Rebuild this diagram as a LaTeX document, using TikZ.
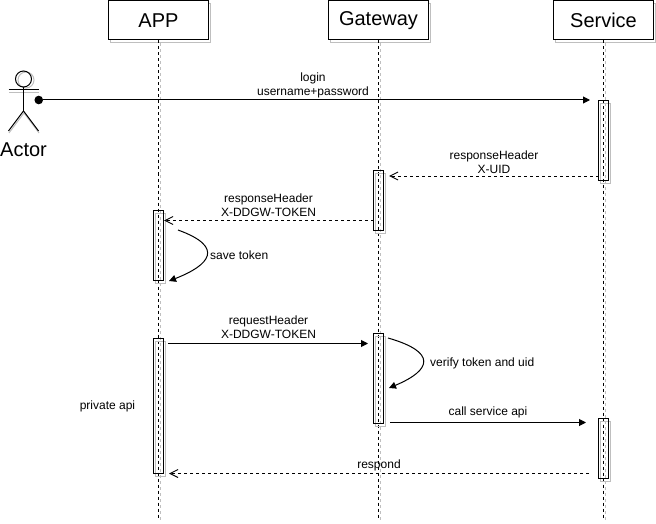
\documentclass[tikz,border=0pt]{standalone}
\usepackage{fontspec}
\setmainfont{Liberation Sans}
\usetikzlibrary{arrows.meta}
\tikzset{
  headbox/.style={draw, fill=white, line width=1pt, minimum width=100pt, minimum height=39.5pt, inner sep=0pt, font=\fontsize{20}{22}\selectfont},
  actbox/.style={draw, line width=1pt, minimum width=10pt, inner sep=0pt},
  msg/.style={line width=1pt, -{Triangle[length=7pt,width=7pt]}},
  reply/.style={line width=1pt, dash pattern=on 3pt off 3pt, -{Straight Barb[length=8pt,width=8pt]}},
  lbl/.style={inner sep=0pt, align=center, font=\fontsize{12}{14}\selectfont},
  life/.style={line width=1pt, dash pattern=on 3pt off 3pt}
}
\begin{document}
\begin{tikzpicture}[x=1pt, y=-1pt]
\useasboundingbox (0, 0) rectangle (656, 524);
% head shadows and lifelines
\foreach \px/\pname in {158.5/app, 378.5/gate, 603.5/serv} {
  \draw[black!25, line width=1pt] (\px-48, 3.5) rectangle (\px+52, 43);
  \draw[life, black!25] (\px+1.5, 43) -- (\px+1.5, 520);
}
\node[headbox] (app) at (158.5, 20.25) {APP};
\node[headbox] (gate) at (378.5, 20.25) {Gateway};
\node[headbox] (serv) at (603.5, 20.25) {Service};
\coordinate (append) at (158.5, 519);
\coordinate (gateend) at (378.5, 519);
\coordinate (servend) at (603.5, 519);
\draw[life] (app) -- (append);
\draw[life] (gate) -- (gateend);
\draw[life] (serv) -- (servend);
% activation shadows
\foreach \px/\ya/\yb in {603.5/100.5/180.5, 378.5/170.5/230.5, 158.5/210.5/280.5, 158.5/338/473, 378.5/333.5/423, 603.5/418/478} {
  \draw[black!25, line width=1pt] (\px-3, \ya+3) rectangle (\px+7, \yb+3);
}
\node[actbox, minimum height=80pt] (servlogin) at (603.5, 140.5) {};
\node[actbox, minimum height=60pt] (gatehdr) at (378.5, 200.5) {};
\node[actbox, minimum height=70pt] (apphdr) at (158.5, 245.5) {};
\node[actbox, minimum height=135pt] (appreq) at (158.5, 405.5) {};
\node[actbox, minimum height=89.5pt] (gatereq) at (378.5, 378.25) {};
\node[actbox, minimum height=60pt] (servcall) at (603.5, 448) {};
% actor
\draw[black!25, line width=1pt] (26, 80) circle (8);
\draw[black!25, line width=1pt] (9, 93) -- (39, 93);
\draw[black!25, line width=1pt] (9, 133) -- (24, 113) -- (39, 133);
\node[draw, circle, line width=1pt, minimum size=16pt, inner sep=0pt] (actor) at (23.5, 79) {};
\coordinate (arml) at (8.5, 90);
\coordinate (armr) at (38.5, 90);
\coordinate (hip) at (23.5, 111);
\coordinate (legl) at (8.5, 131);
\coordinate (legr) at (38.5, 131);
\draw[line width=1pt] (actor) -- (hip);
\draw[line width=1pt] (arml) -- (armr);
\draw[line width=1pt] (legl) -- (hip) -- (legr);
\node[inner sep=0pt, font=\fontsize{20}{22}\selectfont] (actorlbl) at (23.5, 149.5) {Actor};
% messages
\coordinate (dot) at (34.5, 100);
\coordinate (loginend) at (590, 100);
\draw[msg, {Circle[length=8.5pt]}-{Triangle[length=7pt,width=7pt]}] (dot) -- (loginend);
\node[lbl] (loginlbl) at (313, 85) {login\\username+password};
\coordinate (uidfrom) at (598.5, 176);
\coordinate (uidto) at (389, 176);
\draw[reply] (uidfrom) -- (uidto);
\node[lbl] (uidlbl) at (494, 162.5) {responseHeader\\X-UID};
\coordinate (tokenfrom) at (373.5, 220.5);
\coordinate (tokento) at (164, 220.5);
\draw[reply] (tokenfrom) -- (tokento);
\node[lbl] (tokenlbl) at (268.5, 205.5) {responseHeader\\X-DDGW-TOKEN};
\coordinate (savefrom) at (178, 230);
\coordinate (saveto) at (169, 281);
\draw[msg] (savefrom) .. controls (225, 247) and (210, 265) .. (saveto);
\node[lbl, anchor=west] (savelbl) at (210, 255.5) {save token};
\coordinate (reqfrom) at (168, 343.5);
\coordinate (reqto) at (368, 343.5);
\draw[msg] (reqfrom) -- (reqto);
\node[lbl] (reqlbl) at (268.5, 327.5) {requestHeader\\X-DDGW-TOKEN};
\coordinate (verifyfrom) at (388, 338);
\coordinate (verifyto) at (389, 388);
\draw[msg] (verifyfrom) .. controls (437, 352) and (432, 370) .. (verifyto);
\node[lbl, anchor=west] (verifylbl) at (430, 363.5) {verify token and uid};
\coordinate (callfrom) at (390, 422.5);
\coordinate (callto) at (586, 422.5);
\draw[msg] (callfrom) -- (callto);
\node[lbl] (calllbl) at (488, 412.5) {call service api};
\coordinate (respfrom) at (589, 473.5);
\coordinate (respto) at (169, 473.5);
\draw[reply] (respfrom) -- (respto);
\node[lbl] (resplbl) at (379, 465.5) {respond};
\node[lbl] (privlbl) at (107.5, 406.5) {private api};
\end{tikzpicture}
\end{document}
